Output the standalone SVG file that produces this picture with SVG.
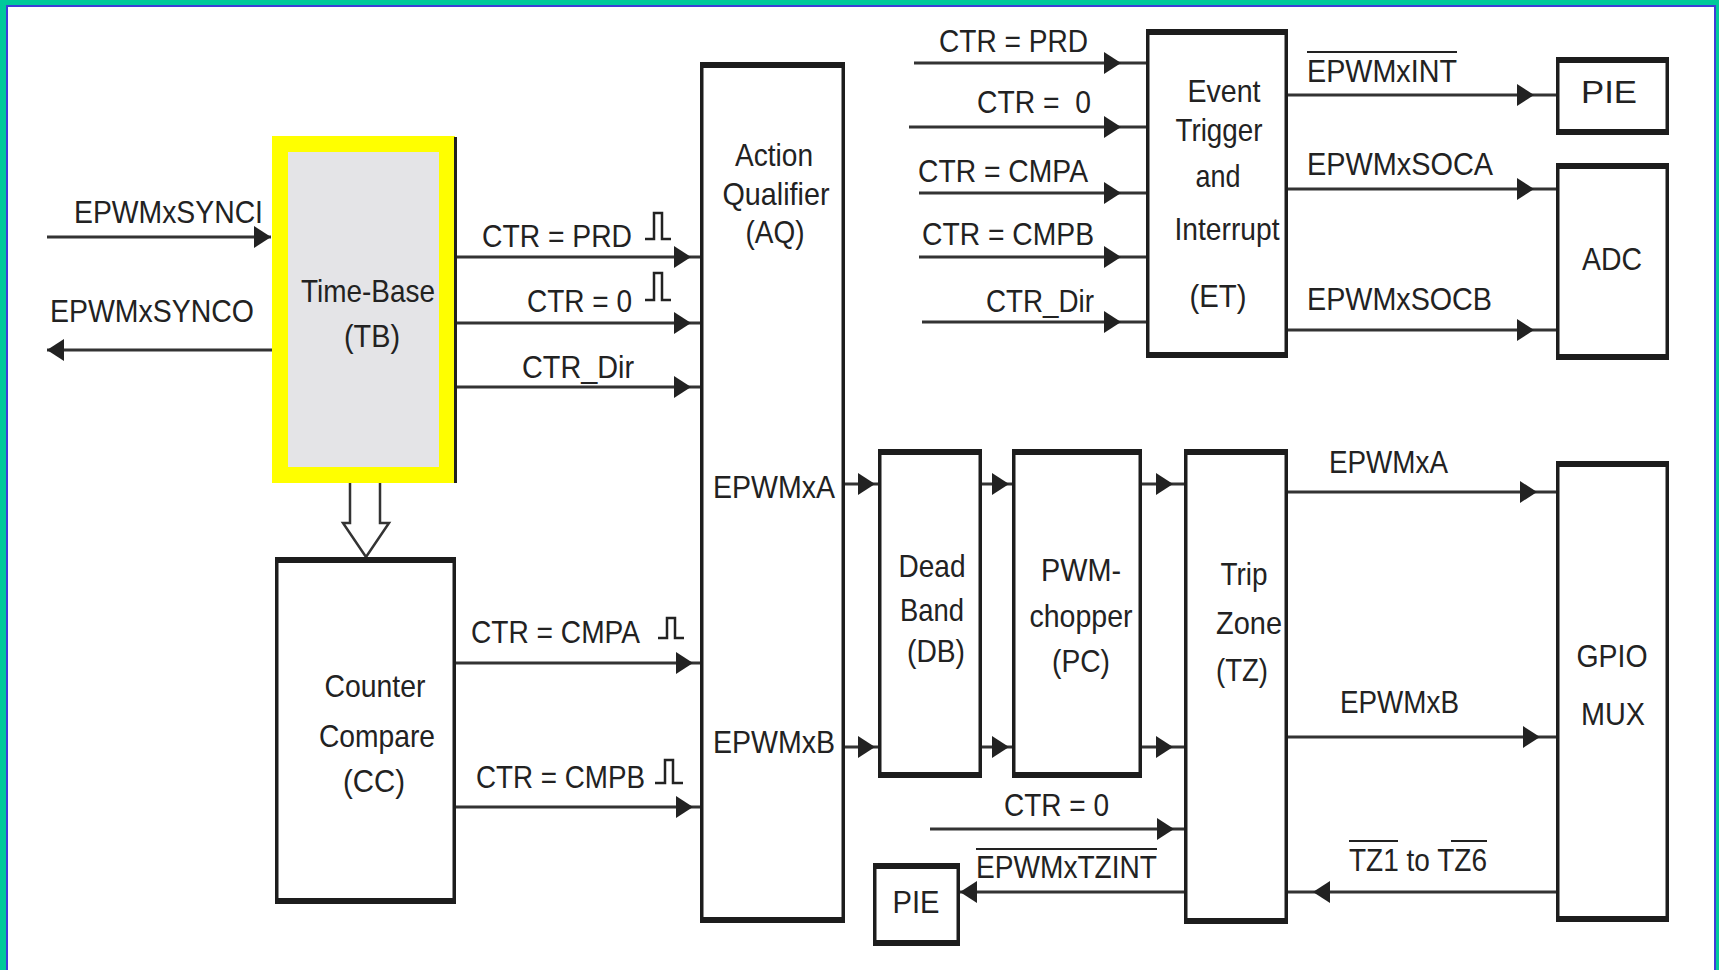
<svg xmlns="http://www.w3.org/2000/svg" width="1719" height="970" viewBox="0 0 1719 970">
<style>
.t{font-family:"Liberation Sans",Arial,sans-serif;font-size:32px;fill:#222;}
.m{text-anchor:middle;}
.box{fill:#fff;stroke:#1d1d1d;stroke-width:3.5;}
.edge{fill:none;stroke:#1d1d1d;stroke-width:6;}
.c{fill:none;stroke:#333;stroke-width:3;}
.ol{stroke:#222;stroke-width:2;}
.pulse{fill:none;stroke:#222;stroke-width:2.5;}
</style>
<defs>
<marker id="ah" viewBox="0 0 17 22" refX="17" refY="11" markerWidth="17" markerHeight="22" markerUnits="userSpaceOnUse" orient="auto">
<path d="M0,0 L17,11 L0,22 z" fill="#222"/>
</marker>
</defs>
<rect width="1719" height="970" fill="#00C99A"/>
<rect x="7" y="6" width="1708" height="970" fill="#fff" stroke="#3D3DD8" stroke-width="2"/>

<g id="connectors">
<path class="c" d="M47,237 H271" marker-end="url(#ah)"/>
<path class="c" d="M272,350 H47" marker-end="url(#ah)"/>
<path class="c" d="M455,257 H691 H700" marker-mid="url(#ah)"/>
<path class="c" d="M455,323 H691 H700" marker-mid="url(#ah)"/>
<path class="c" d="M455,387 H691 H700" marker-mid="url(#ah)"/>
<path class="c" d="M456,663 H693 H700" marker-mid="url(#ah)"/>
<path class="c" d="M456,807 H693 H700" marker-mid="url(#ah)"/>
<path d="M350,483 V523 H343 L366,557 L389,523 H380 V483" fill="#fff" stroke="#333" stroke-width="2.5"/>
<path class="c" d="M914,63 H1121 H1146" marker-mid="url(#ah)"/>
<path class="c" d="M909,127 H1121 H1146" marker-mid="url(#ah)"/>
<path class="c" d="M919,193 H1121 H1146" marker-mid="url(#ah)"/>
<path class="c" d="M919,257 H1121 H1146" marker-mid="url(#ah)"/>
<path class="c" d="M922,322 H1121 H1146" marker-mid="url(#ah)"/>
<path class="c" d="M1288,95 H1534 H1556" marker-mid="url(#ah)"/>
<path class="c" d="M1288,189 H1534 H1556" marker-mid="url(#ah)"/>
<path class="c" d="M1288,330 H1534 H1556" marker-mid="url(#ah)"/>
<path class="c" d="M845,484 H875 H878" marker-mid="url(#ah)"/>
<path class="c" d="M982,484 H1009 H1012" marker-mid="url(#ah)"/>
<path class="c" d="M1142,484 H1173 H1184" marker-mid="url(#ah)"/>
<path class="c" d="M845,747 H875 H878" marker-mid="url(#ah)"/>
<path class="c" d="M982,747 H1009 H1012" marker-mid="url(#ah)"/>
<path class="c" d="M1142,747 H1173 H1184" marker-mid="url(#ah)"/>
<path class="c" d="M1288,492 H1537 H1556" marker-mid="url(#ah)"/>
<path class="c" d="M1288,737 H1540 H1556" marker-mid="url(#ah)"/>
<path class="c" d="M930,829 H1174 H1184" marker-mid="url(#ah)"/>
<path class="c" d="M1184,892 H960" marker-end="url(#ah)"/>
<path class="c" d="M1556,892 H1313 H1288" marker-mid="url(#ah)"/>
</g>

<g id="connector-labels">
<text class="t" x="74" y="223" textLength="189" lengthAdjust="spacingAndGlyphs">EPWMxSYNCI</text>
<text class="t" x="50" y="322" textLength="204" lengthAdjust="spacingAndGlyphs">EPWMxSYNCO</text>
<text class="t" x="482" y="247" textLength="150" lengthAdjust="spacingAndGlyphs">CTR = PRD</text>
<path class="pulse" d="M645,239 H654 V213 H662 V239 H671"/>
<text class="t" x="527" y="312" textLength="105" lengthAdjust="spacingAndGlyphs">CTR = 0</text>
<path class="pulse" d="M645,300 H654 V273 H662 V300 H671"/>
<text class="t" x="522" y="378" textLength="112" lengthAdjust="spacingAndGlyphs">CTR_Dir</text>
<text class="t" x="471" y="643" textLength="169" lengthAdjust="spacingAndGlyphs">CTR = CMPA</text>
<path class="pulse" d="M658,638 H667 V618 H675 V638 H684"/>
<text class="t" x="476" y="788" textLength="169" lengthAdjust="spacingAndGlyphs">CTR = CMPB</text>
<path class="pulse" d="M655,783 H665 V760 H673 V783 H683"/>
<text class="t" x="939" y="52" textLength="149" lengthAdjust="spacingAndGlyphs">CTR = PRD</text>
<text class="t" x="977" y="113" textLength="114" lengthAdjust="spacingAndGlyphs" xml:space="preserve">CTR =  0</text>
<text class="t" x="918" y="182" textLength="170" lengthAdjust="spacingAndGlyphs">CTR = CMPA</text>
<text class="t" x="922" y="245" textLength="172" lengthAdjust="spacingAndGlyphs">CTR = CMPB</text>
<text class="t" x="986" y="312" textLength="108" lengthAdjust="spacingAndGlyphs">CTR_Dir</text>
<text class="t" x="1307" y="82" textLength="150" lengthAdjust="spacingAndGlyphs">EPWMxINT</text>
<line class="ol" x1="1307" y1="52" x2="1457" y2="52"/>
<text class="t" x="1307" y="175" textLength="186" lengthAdjust="spacingAndGlyphs">EPWMxSOCA</text>
<text class="t" x="1307" y="310" textLength="185" lengthAdjust="spacingAndGlyphs">EPWMxSOCB</text>
<text class="t" x="1329" y="473" textLength="119" lengthAdjust="spacingAndGlyphs">EPWMxA</text>
<text class="t" x="1340" y="713" textLength="119" lengthAdjust="spacingAndGlyphs">EPWMxB</text>
<text class="t" x="1004" y="816" textLength="105" lengthAdjust="spacingAndGlyphs">CTR = 0</text>
<text class="t" x="976" y="878" textLength="181" lengthAdjust="spacingAndGlyphs">EPWMxTZINT</text>
<line class="ol" x1="976" y1="849" x2="1157" y2="849"/>
<text class="t" x="1349" y="871" textLength="138" lengthAdjust="spacingAndGlyphs">TZ1 to TZ6</text>
<line class="ol" x1="1349" y1="841" x2="1398" y2="841"/>
<line class="ol" x1="1451" y1="841" x2="1487" y2="841"/>
</g>

<g id="tb">
<rect x="280" y="144" width="167" height="331" fill="#E4E4E7" stroke="#FFFF00" stroke-width="16"/>
<line x1="455.5" y1="137" x2="455.5" y2="483" stroke="#222" stroke-width="3"/>
<text class="t m" x="368" y="302" textLength="134" lengthAdjust="spacingAndGlyphs">Time-Base</text>
<text class="t m" x="372" y="347" textLength="56" lengthAdjust="spacingAndGlyphs">(TB)</text>
</g>

<g id="aq">
<rect class="box" x="701.75" y="65" width="141.5" height="855"/>
<path class="edge" d="M700,65 H845 M700,920 H845"/>
<text class="t m" x="774" y="166" textLength="78" lengthAdjust="spacingAndGlyphs">Action</text>
<text class="t m" x="776" y="205" textLength="107" lengthAdjust="spacingAndGlyphs">Qualifier</text>
<text class="t m" x="775" y="243" textLength="59" lengthAdjust="spacingAndGlyphs">(AQ)</text>
<text class="t" x="713" y="498" textLength="122" lengthAdjust="spacingAndGlyphs">EPWMxA</text>
<text class="t" x="713" y="753" textLength="122" lengthAdjust="spacingAndGlyphs">EPWMxB</text>
</g>

<g id="cc">
<rect class="box" x="276.75" y="560" width="177.5" height="341"/>
<path class="edge" d="M275,560 H456 M275,901 H456"/>
<text class="t m" x="375" y="697" textLength="101" lengthAdjust="spacingAndGlyphs">Counter</text>
<text class="t m" x="377" y="747" textLength="116" lengthAdjust="spacingAndGlyphs">Compare</text>
<text class="t m" x="374" y="792" textLength="62" lengthAdjust="spacingAndGlyphs">(CC)</text>
</g>

<g id="et">
<rect class="box" x="1147.75" y="32" width="138.5" height="323"/>
<path class="edge" d="M1146,32 H1288 M1146,355 H1288"/>
<text class="t m" x="1224" y="102" textLength="73" lengthAdjust="spacingAndGlyphs">Event</text>
<text class="t m" x="1219" y="141" textLength="87" lengthAdjust="spacingAndGlyphs">Trigger</text>
<text class="t m" x="1218" y="187" textLength="45" lengthAdjust="spacingAndGlyphs">and</text>
<text class="t m" x="1227" y="240" textLength="105" lengthAdjust="spacingAndGlyphs">Interrupt</text>
<text class="t m" x="1218" y="307" textLength="57" lengthAdjust="spacingAndGlyphs">(ET)</text>
</g>

<g id="pie-top">
<rect class="box" x="1557.75" y="60" width="109.5" height="72"/>
<path class="edge" d="M1556,60 H1669 M1556,132 H1669"/>
<text class="t m" x="1609" y="103" textLength="56" lengthAdjust="spacingAndGlyphs">PIE</text>
</g>

<g id="adc">
<rect class="box" x="1557.75" y="166" width="109.5" height="191"/>
<path class="edge" d="M1556,166 H1669 M1556,357 H1669"/>
<text class="t m" x="1612" y="270" textLength="60" lengthAdjust="spacingAndGlyphs">ADC</text>
</g>

<g id="db">
<rect class="box" x="879.75" y="452" width="100.5" height="323"/>
<path class="edge" d="M878,452 H982 M878,775 H982"/>
<text class="t m" x="932" y="577" textLength="67" lengthAdjust="spacingAndGlyphs">Dead</text>
<text class="t m" x="932" y="621" textLength="64" lengthAdjust="spacingAndGlyphs">Band</text>
<text class="t m" x="936" y="662" textLength="58" lengthAdjust="spacingAndGlyphs">(DB)</text>
</g>

<g id="pc">
<rect class="box" x="1013.75" y="452" width="126.5" height="323"/>
<path class="edge" d="M1012,452 H1142 M1012,775 H1142"/>
<text class="t m" x="1081" y="581" textLength="80" lengthAdjust="spacingAndGlyphs">PWM-</text>
<text class="t m" x="1081" y="627" textLength="103" lengthAdjust="spacingAndGlyphs">chopper</text>
<text class="t m" x="1081" y="672" textLength="58" lengthAdjust="spacingAndGlyphs">(PC)</text>
</g>

<g id="tz">
<rect class="box" x="1185.75" y="452" width="100.5" height="469"/>
<path class="edge" d="M1184,452 H1288 M1184,921 H1288"/>
<text class="t m" x="1244" y="585" textLength="47" lengthAdjust="spacingAndGlyphs">Trip</text>
<text class="t m" x="1249" y="634" textLength="66" lengthAdjust="spacingAndGlyphs">Zone</text>
<text class="t m" x="1242" y="681" textLength="52" lengthAdjust="spacingAndGlyphs">(TZ)</text>
</g>

<g id="gpio">
<rect class="box" x="1557.75" y="464" width="109.5" height="455"/>
<path class="edge" d="M1556,464 H1669 M1556,919 H1669"/>
<text class="t m" x="1612" y="667" textLength="71" lengthAdjust="spacingAndGlyphs">GPIO</text>
<text class="t m" x="1613" y="725" textLength="64" lengthAdjust="spacingAndGlyphs">MUX</text>
</g>

<g id="pie-bottom">
<rect class="box" x="874.75" y="866" width="83.5" height="77"/>
<path class="edge" d="M873,866 H960 M873,943 H960"/>
<text class="t m" x="916" y="913" textLength="47" lengthAdjust="spacingAndGlyphs">PIE</text>
</g>
</svg>
